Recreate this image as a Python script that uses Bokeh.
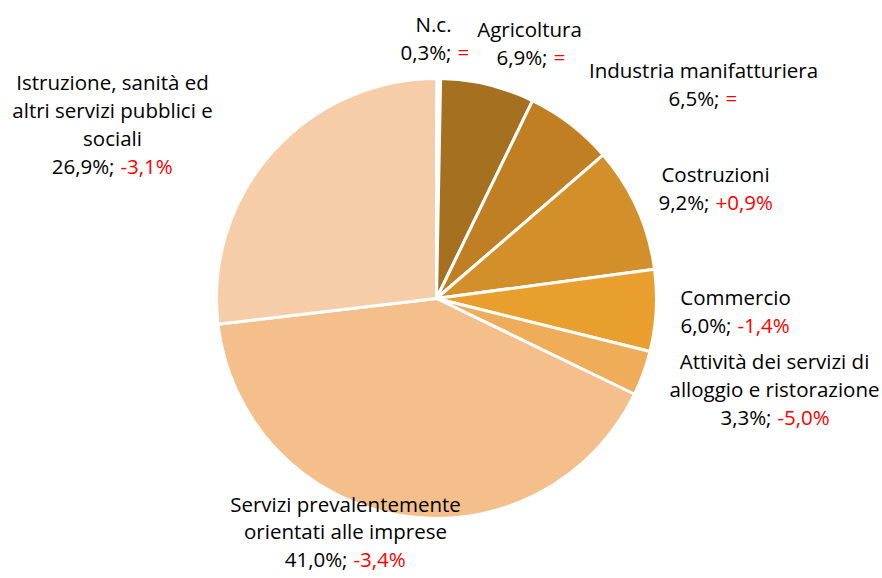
import math
from bokeh.plotting import figure
from bokeh.models import Range1d
from bokeh.core.properties import value
from bokeh.embed import file_html
from bokeh.resources import INLINE

# ---- data ----
sectors = ["N.c.", "Agricoltura", "Industria manifatturiera", "Costruzioni", "Commercio",
           "Attività dei servizi di alloggio e ristorazione",
           "Servizi prevalentemente orientati alle imprese",
           "Istruzione, sanità ed altri servizi pubblici e sociali"]
shares = [0.3, 6.9, 6.5, 9.2, 6.0, 3.3, 41.0, 26.9]
share_labels = ["0,3%;", "6,9%;", "6,5%;", "9,2%;", "6,0%;", "3,3%;", "41,0%;", "26,9%;"]
change_labels = ["=", "=", "=", "+0,9%", "-1,4%", "-5,0%", "-3,4%", "-3,1%"]
colors = ["#FFFFFF", "#A5701F", "#C17F23", "#D38F2A", "#E89F2E", "#EFAD5A", "#F4BF8B", "#F6CDA8"]

# label layout (title lines, page-pixel anchor positions)
title_lines = [["N.c."], ["Agricoltura"], ["Industria manifatturiera"], ["Costruzioni"], ["Commercio"],
               ["Attività dei servizi di", "alloggio e ristorazione"],
               ["Servizi prevalentemente", "orientati alle imprese"],
               ["Istruzione, sanità ed", "altri servizi pubblici e", "sociali"]]
label_cx = [433, 529, 703, 715, 735, 774, 345, 112]
label_top = [23, 28, 69, 173, 296, 360, 503, 81]
label_lh = [28.3, 28.3, 28.3, 28.3, 28.3, 28.3, 27.5, 28.3]
split_x = [454, 550, 722, 712, 734, 774, 350, 117]

W, H = 880, 576
def px(X): return X
def py(Y): return H - Y

p = figure(width=W, height=H, output_backend="svg", toolbar_location=None,
           x_range=Range1d(0, W), y_range=Range1d(0, H), min_border=0)
p.axis.visible = False
p.grid.visible = False
p.outline_line_color = None
p.background_fill_color = "white"
p.border_fill_color = "white"

cx, cy, r = px(436), py(298), 220
total = sum(shares)
cum = 0.0
starts, ends = [], []
for s in shares:
    a0 = math.pi / 2 - 2 * math.pi * cum / total
    cum += s
    a1 = math.pi / 2 - 2 * math.pi * cum / total
    starts.append(a0)
    ends.append(a1)

p.wedge(x=[cx] * len(shares), y=[cy] * len(shares), radius=r,
        start_angle=starts, end_angle=ends, direction="clock",
        fill_color=colors, line_color="white", line_width=3)

FONT = value("Open Sans")
FS = "20.5px"
for i in range(len(sectors)):
    y = label_top[i]
    for ln in title_lines[i]:
        p.text(x=[px(label_cx[i])], y=[py(y)], text=[ln], text_font=FONT, text_font_size=FS,
               text_align="center", text_baseline="middle", text_color="#000000")
        y += label_lh[i]
    p.text(x=[px(split_x[i] - 3)], y=[py(y)], text=[share_labels[i]], text_font=FONT,
           text_font_size=FS, text_align="right", text_baseline="middle", text_color="#000000")
    p.text(x=[px(split_x[i] + 3)], y=[py(y)], text=[change_labels[i]], text_font=FONT,
           text_font_size=FS, text_align="left", text_baseline="middle", text_color="#FF0000")

open("out.html", "w").write(file_html(p, INLINE))
